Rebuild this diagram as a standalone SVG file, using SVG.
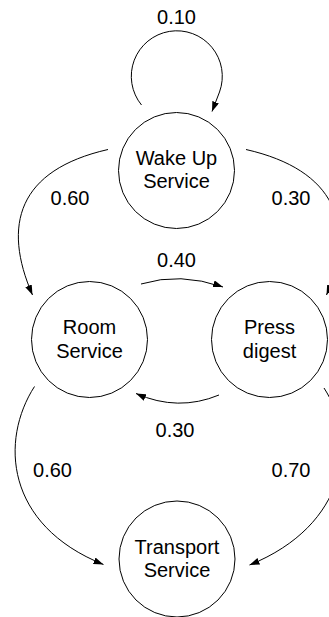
<svg xmlns="http://www.w3.org/2000/svg" width="329" height="617" viewBox="0 0 329 617">
<style>
.node circle{fill:#fff;stroke:#000;stroke-width:1}
.node text,.lbl{font-family:"Liberation Sans",Arial,sans-serif;font-size:20px;fill:#000;text-anchor:middle}
.edges path{fill:none;stroke:#000;stroke-width:1;marker-end:url(#arr)}
</style>
<defs>
<marker id="arr" viewBox="0 0 10 7" refX="10" refY="3.5" markerWidth="10" markerHeight="7" markerUnits="userSpaceOnUse" orient="auto">
<path d="M0,0 L10,3.5 L0,7 z" fill="#000"/>
</marker>
</defs>
<rect width="329" height="617" fill="#fff"/>
<g class="edges" id="connectors">
<path d="M141.5,105 A45.5,45.5 0 1 1 219.5,92 L212,111.5"/>
<path d="M108,149.5 C18,170 2,225 32.5,295"/>
<path d="M246,149.5 C336,170 356,225 326.5,295"/>
<path d="M141,284 Q180,272 223,287"/>
<path d="M219,395 Q178,412 136,393.5"/>
<path d="M34.5,386.5 C0,440 5,525 103.5,564.5"/>
<path d="M324,388 C358,440 348,525 249.5,565"/>
</g>
<g id="labels">
<text class="lbl" x="176.5" y="24">0.10</text>
<text class="lbl" x="70" y="205">0.60</text>
<text class="lbl" x="291" y="205">0.30</text>
<text class="lbl" x="176.5" y="267">0.40</text>
<text class="lbl" x="175" y="437">0.30</text>
<text class="lbl" x="52.5" y="477">0.60</text>
<text class="lbl" x="291" y="477">0.70</text>
</g>
<g class="node" id="wakeup">
<circle cx="176.5" cy="170.5" r="58"/>
<text x="176.5" y="165">Wake Up</text>
<text x="176.5" y="188">Service</text>
</g>
<g class="node" id="roomservice">
<circle cx="89.5" cy="339.5" r="58"/>
<text x="89.5" y="334">Room</text>
<text x="89.5" y="357.5">Service</text>
</g>
<g class="node" id="pressdigest">
<circle cx="269.5" cy="339.5" r="58"/>
<text x="269.5" y="334">Press</text>
<text x="269.5" y="357.5">digest</text>
</g>
<g class="node" id="transport">
<circle cx="177" cy="559" r="58"/>
<text x="177" y="554">Transport</text>
<text x="177" y="577">Service</text>
</g>
</svg>
